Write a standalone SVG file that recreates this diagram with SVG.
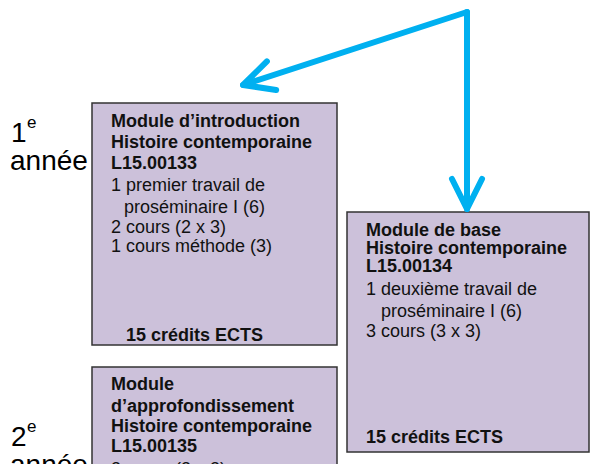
<svg xmlns="http://www.w3.org/2000/svg" width="590" height="464" viewBox="0 0 590 464">
<style>
.box{fill:#ccc1da;stroke:#333;stroke-width:1.5}
text{font-family:"Liberation Sans",Arial,sans-serif;fill:#111}
.b{font-weight:bold;font-size:18px}
.r{font-size:18px}
.lbl{font-size:28px;fill:#000}
.sup{font-size:17px;fill:#000}
.conn{stroke:#00b0f0;stroke-width:6;fill:none;stroke-linecap:round;stroke-linejoin:round}
</style>
<defs>
<marker id="chev" markerUnits="userSpaceOnUse" markerWidth="80" markerHeight="80" viewBox="-40 -40 80 80" refX="0" refY="0" orient="auto" overflow="visible">
<path d="M -30 -15 L 0 0 L -30 15" stroke="#00b0f0" stroke-width="6" fill="none" stroke-linecap="round" stroke-linejoin="round"/>
</marker>
</defs>
<rect width="590" height="464" fill="#fff"/>
<g id="label-1">
<text class="lbl" x="11" y="142">1</text><text class="sup" x="27" y="128">e</text>
<text class="lbl" x="10" y="170">année</text>
</g>
<g id="label-2">
<text class="lbl" x="11" y="446">2</text><text class="sup" x="27" y="432">e</text>
<text class="lbl" x="10" y="474">année</text>
</g>
<g id="module-introduction">
<rect class="box" x="92" y="103" width="245" height="242"/>
<text class="b" x="111" y="127">Module d’introduction</text>
<text class="b" x="111" y="148">Histoire contemporaine</text>
<text class="b" x="111" y="169">L15.00133</text>
<text class="r" x="111" y="191">1 premier travail de</text>
<text class="r" x="124" y="213">proséminaire I (6)</text>
<text class="r" x="111" y="233">2 cours (2 x 3)</text>
<text class="r" x="111" y="252">1 cours méthode (3)</text>
<text class="b" x="126" y="341">15 crédits ECTS</text>
</g>
<g id="module-base">
<rect class="box" x="347" y="212" width="242" height="240"/>
<text class="b" x="366" y="236">Module de base</text>
<text class="b" x="366" y="254">Histoire contemporaine</text>
<text class="b" x="366" y="272">L15.00134</text>
<text class="r" x="366" y="295">1 deuxième travail de</text>
<text class="r" x="381" y="317">proséminaire I (6)</text>
<text class="r" x="366" y="337">3 cours (3 x 3)</text>
<text class="b" x="366" y="443">15 crédits ECTS</text>
</g>
<g id="module-approfondissement">
<rect class="box" x="92" y="367" width="245" height="110"/>
<text class="b" x="111" y="390">Module</text>
<text class="b" x="111" y="412">d’approfondissement</text>
<text class="b" x="111" y="432">Histoire contemporaine</text>
<text class="b" x="111" y="452">L15.00135</text>
<text class="r" x="111" y="475">3 cours (3 x 3)</text>
</g>
<g id="connectors">
<path class="conn" d="M 467 12 L 243 85" marker-end="url(#chev)"/>
<path class="conn" d="M 467 12 L 467 209" marker-end="url(#chev)"/>
</g>
</svg>
